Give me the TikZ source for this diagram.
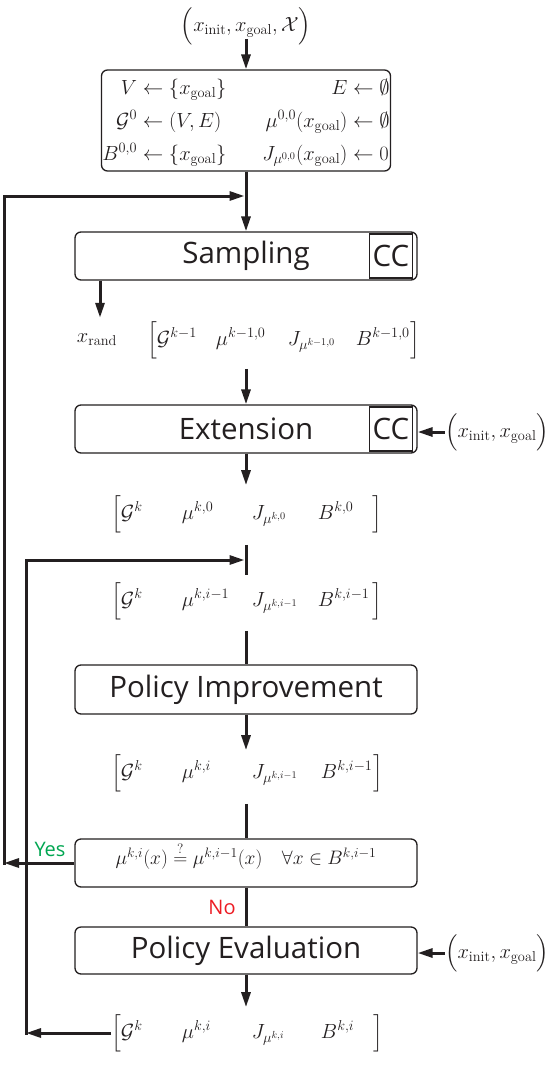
\RequirePackage{fix-cm}
\documentclass[tikz,border=0pt]{standalone}
\usepackage{amsmath}
\usepackage{fontspec}
\newfontfamily\boxfont{Open Sans}
\usetikzlibrary{arrows.meta}
\definecolor{ink}{RGB}{35,31,32}
\definecolor{yesgreen}{RGB}{0,166,81}
\definecolor{nored}{RGB}{237,28,36}
\newcommand{\mfont}{\fontsize{20.5}{25}\selectfont}
\newcommand{\bfnt}{\boxfont\fontsize{29.5}{34}\selectfont}
\begin{document}
\begin{tikzpicture}[x=1pt,y=-1pt,
  box/.style={draw=ink, line width=1.3pt, rounded corners=6pt, minimum width=342pt,
    minimum height=48pt, inner sep=0pt, font=\bfnt, text=ink},
  ccbox/.style={draw=ink, line width=1.3pt, minimum width=43pt, minimum height=44pt,
    inner sep=0pt, font=\bfnt, text=ink},
  conn/.style={line width=3pt, draw=ink},
  tip/.style={-{Triangle[length=15pt,width=9pt]}},
  mth/.style={font=\mfont, inner sep=0pt, text=ink},
  lbl/.style={font=\boxfont\fontsize{20}{24}\selectfont, inner sep=0pt},
]
\fill[white] (0,0) rectangle (550,1065);
\useasboundingbox (0,0) rectangle (550,1065);

% inputs and init
\node[mth] (in) at (246,26) {$\Big(x_{\mathrm{init}}, x_{\mathrm{goal}}, \mathcal{X}\Big)$};
\node[box, minimum width=289pt, minimum height=101pt, font=\mfont] (init) at (246,120.5)
 {$\renewcommand{\arraystretch}{1.32}\begin{array}{@{}r@{}l@{\hspace{36pt}}r@{}l@{}}
   V & {}\leftarrow\{x_{\mathrm{goal}}\} & E & {}\leftarrow\emptyset\\
   \mathcal{G}^0 & {}\leftarrow (V,E) & \mu^{0,0}(x_{\mathrm{goal}}) & {}\leftarrow \emptyset \\
   B^{0,0} & {}\leftarrow \{x_{\mathrm{goal}}\} & J_{\mu^{0,0}}(x_{\mathrm{goal}}) & {}\leftarrow 0
  \end{array}$};

% sampling
\node[box] (samp) at (246,256) {Sampling};
\node[ccbox] (cc1) at (391,256) {CC};
\node[mth] (xr) at (97,340) {$x_{\mathrm{rand}}$};
\node[mth, anchor=west] (r1) at (147,340)
 {$\Big[\makebox[59pt][l]{$\mathcal{G}^{k-1}$}\makebox[72pt][l]{$\mu^{k-1,0}$}\makebox[68pt][l]{$J_{\mu^{k-1,0}}$}\makebox[55pt][l]{$B^{k-1,0}$}\Big]$};

% extension
\node[box] (ext) at (246,429) {Extension};
\node[ccbox] (cc2) at (391,429) {CC};
\node[mth] (in2) at (497,432) {$\Big(x_{\mathrm{init}}, x_{\mathrm{goal}}\Big)$};
\node[mth, anchor=west] (r2) at (111,514)
 {$\Big[\makebox[61pt][l]{$\mathcal{G}^{k}$}\makebox[70pt][l]{$\mu^{k,0}$}\makebox[66pt][l]{$J_{\mu^{k,0}}$}\makebox[55pt][l]{$B^{k,0}$}\Big]$};
\node[mth, anchor=west] (r3) at (111,601)
 {$\Big[\makebox[61pt][l]{$\mathcal{G}^{k}$}\makebox[70pt][l]{$\mu^{k,i-1}$}\makebox[66pt][l]{$J_{\mu^{k,i-1}}$}\makebox[55pt][l]{$B^{k,i-1}$}\Big]$};

% policy improvement
\node[box, minimum height=49pt] (pi) at (246,689.5) {Policy Improvement};
\node[mth, anchor=west] (r4) at (111,773)
 {$\Big[\makebox[61pt][l]{$\mathcal{G}^{k}$}\makebox[70pt][l]{$\mu^{k,i}$}\makebox[69pt][l]{$J_{\mu^{k,i-1}}$}\makebox[53pt][l]{$B^{k,i-1}$}\Big]$};

% condition
\node[box] (cond) at (246,863) {};
\node[mth, font=\fontsize{19.5}{24}\selectfont] (condtxt) at (246,856) {$\mu^{k,i}(x) \overset{?}{=} \mu^{k,i-1}(x) \quad \forall x \in B^{k,i-1}$};
\node[lbl, text=yesgreen] (yes) at (50,849) {Yes};
\node[lbl, text=nored] (no) at (222,907) {No};

% policy evaluation
\node[box, minimum height=47pt] (pe) at (246,950.5) {Policy Evaluation};
\node[mth] (in3) at (497,953) {$\Big(x_{\mathrm{init}}, x_{\mathrm{goal}}\Big)$};
\node[mth, anchor=west] (r5) at (111,1033)
 {$\Big[\makebox[61pt][l]{$\mathcal{G}^{k}$}\makebox[70pt][l]{$\mu^{k,i}$}\makebox[69pt][l]{$J_{\mu^{k,i}}$}\makebox[53pt][l]{$B^{k,i}$}\Big]$};

% loop corners
\coordinate (ob) at (4,863);
\coordinate (ot) at (4,196);
\coordinate (ib) at (26,1034);
\coordinate (it) at (26,560);

% main flow
\draw[conn,tip] ([yshift=6pt]in.south) -- (in.south |- init.north);
\draw[conn,tip] (init.south) -- (samp.north);
\draw[conn,tip] ([xshift=3pt]xr.north |- samp.south) -- ([xshift=3pt,yshift=16pt]xr.north);
\draw[conn,tip] ([yshift=-10pt]r1.south -| ext.north) -- (ext.north);
\draw[conn,tip] (in2.west) -- (in2.west -| ext.east);
\draw[conn,tip] (ext.south) -- ([yshift=10pt]r2.north -| ext.south);
\draw[conn] ([yshift=-12pt]r2.south -| ext.south) -- ([yshift=7pt]r3.north -| ext.south);
\draw[conn] ([yshift=-11pt]r3.south -| pi.north) -- (pi.north);
\draw[conn,tip] (pi.south) -- ([yshift=4pt]r4.north -| pi.south);
\draw[conn] ([yshift=-12pt]r4.south -| cond.north) -- (cond.north);
\draw[conn] (cond.south) -- (pe.north);
\draw[conn,tip] (in3.west) -- (in3.west -| pe.east);
\draw[conn,tip] (pe.south) -- ([yshift=7pt]r5.north -| pe.south);

% outer loop (Yes)
\draw[conn,tip] (cond.west) -- (ob);
\draw[conn,tip] ([yshift=-1.5pt]ob) -- (ot) -- ([xshift=-1.5pt]ot -| init.south);

% inner loop
\draw[conn,tip] (r5.west) -- (r5.west -| ib);
\draw[conn,tip] ([yshift=-1.5pt]r5.west -| ib) -- (it) -- ([xshift=-1.5pt]it -| ext.south);
\end{tikzpicture}
\end{document}
